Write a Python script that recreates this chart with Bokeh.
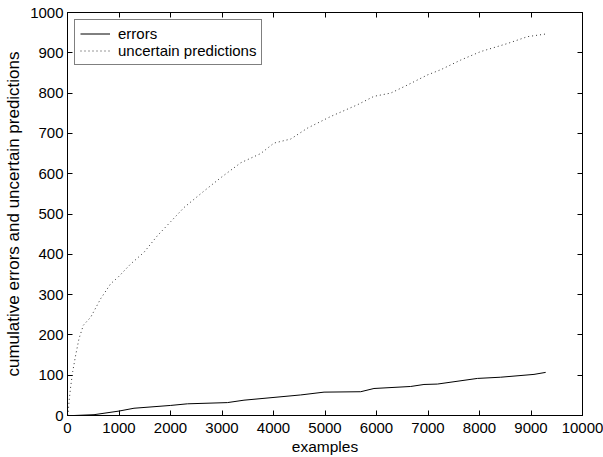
from bokeh.plotting import figure
from bokeh.models import LinearAxis, FixedTicker, Legend, LegendItem, Range1d, CustomJSTickFormatter
from bokeh.embed import file_html
from bokeh.resources import INLINE

# uncertain predictions (cumulative)
unc_x = [0, 10, 30, 62, 101, 159, 224, 308, 451, 645, 839, 981, 1227, 1486, 1745, 2004,
         2262, 2651, 2975, 3363, 3751, 4010, 4334, 4658, 5111, 5629, 5951, 6276, 6600,
         6988, 7247, 7635, 8023, 8542, 8930, 9252, 9300]
unc_y = [0, 1, 35, 72, 109, 150, 191, 224, 244, 290, 327, 343, 376, 405, 446, 481,
         516, 557, 590, 627, 650, 676, 686, 713, 742, 771, 792, 800, 820,
         845, 858, 882, 903, 923, 940, 946, 947]

# errors (cumulative)
err_x = [0, 126, 515, 1000, 1291, 2004, 2328, 3105, 3427, 4528, 4981, 5693, 5951,
         6664, 6922, 7182, 7959, 8412, 9058, 9285]
err_y = [0, 0, 2, 11, 18, 25, 29, 32, 38, 51, 58, 59, 67,
         72, 77, 78, 92, 95, 102, 107]

x_ticks = list(range(0, 10001, 1000))
y_ticks = list(range(0, 1001, 100))

FONT = "Liberation Sans"

p = figure(width=603, height=457, output_backend="svg", toolbar_location=None,
           x_range=Range1d(0, 10000), y_range=Range1d(0, 1000),
           min_border_left=67, min_border_top=12, min_border_right=21, min_border_bottom=40)
p.grid.visible = False
p.outline_line_color = "black"
p.outline_line_width = 1
p.background_fill_color = "white"
p.border_fill_color = "white"

def style_axis(ax, labels=True):
    ax.major_tick_in = 5
    ax.major_tick_out = 0
    ax.minor_tick_in = 0
    ax.minor_tick_out = 0
    ax.axis_line_color = "black"
    ax.major_tick_line_color = "black"
    ax.major_label_text_font = FONT
    ax.major_label_text_font_size = "15px"
    ax.major_label_text_color = "black"
    ax.axis_label_text_font = FONT
    ax.axis_label_text_font_style = "normal"
    ax.axis_label_text_color = "black"
    if not labels:
        ax.formatter = CustomJSTickFormatter(code="return ''")
        ax.major_label_standoff = 0

p.xaxis.ticker = FixedTicker(ticks=x_ticks)
p.yaxis.ticker = FixedTicker(ticks=y_ticks)
style_axis(p.xaxis[0])
style_axis(p.yaxis[0])
p.xaxis.axis_label = "examples"
p.yaxis.axis_label = "cumulative errors and uncertain predictions"
p.xaxis.axis_label_text_font_size = "15.5px"
p.yaxis.axis_label_text_font_size = "17px"
p.xaxis.major_label_standoff = 7
p.xaxis.axis_label_standoff = 2
p.yaxis.major_label_standoff = 4
p.yaxis.axis_label_standoff = 4

top = LinearAxis(ticker=FixedTicker(ticks=x_ticks))
style_axis(top, labels=False)
p.add_layout(top, "above")
right = LinearAxis(ticker=FixedTicker(ticks=y_ticks))
style_axis(right, labels=False)
p.add_layout(right, "right")

r_err = p.line(err_x, err_y, line_color="black", line_width=1)
r_unc = p.line(unc_x, unc_y, line_color="#333333", line_width=1, line_dash="1 3")

legend = Legend(items=[LegendItem(label="errors", renderers=[r_err]),
                       LegendItem(label="uncertain predictions", renderers=[r_unc])],
                location="top_left")
legend.label_text_font = FONT
legend.label_text_font_size = "15px"
legend.label_text_color = "black"
legend.border_line_color = "black"
legend.border_line_width = 1
legend.background_fill_alpha = 1
legend.margin = 7
legend.padding = 5
legend.spacing = 0
legend.glyph_width = 30
legend.glyph_height = 15
legend.label_height = 15
legend.label_standoff = 8
p.add_layout(legend, "center")

open("out.html", "w").write(file_html(p, INLINE))
